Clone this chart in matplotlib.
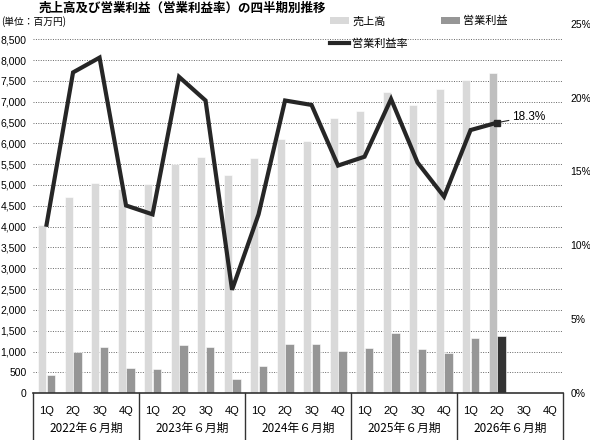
import numpy as np
import matplotlib
matplotlib.use("Agg")
import matplotlib.pyplot as plt
from matplotlib.patches import Patch
from matplotlib.lines import Line2D
import matplotlib.transforms as mtransforms

plt.rcParams['font.family'] = ['Noto Sans CJK JP', 'DejaVu Sans']
NUM_FONT = ['Liberation Sans', 'DejaVu Sans']

# data
years = ["2022年６月期", "2023年６月期", "2024年６月期", "2025年６月期", "2026年６月期"]
quarters = ["1Q", "2Q", "3Q", "4Q"]
sales = [4040, 4700, 5040, 4900,
         5020, 5500, 5660, 5240,
         5640, 6100, 6060, 6610,
         6770, 7240, 6920, 7300,
         7520, 7700, np.nan, np.nan]
op_income = [440, 1000, 1120, 600,
             585, 1160, 1105, 336,
             665, 1185, 1175, 1015,
             1080, 1440, 1065, 960,
             1320, 1385, np.nan, np.nan]
op_margin = [11.4, 21.7, 22.7, 12.7,
             12.1, 21.4, 19.8, 7.0,
             12.1, 19.8, 19.5, 15.4,
             16.0, 19.9, 15.6, 13.3,
             17.8, 18.3, np.nan, np.nan]

n = len(sales)
x = np.arange(n)
last = 17  # latest quarter, drawn darker

sales_colors = ['#d9d9d9'] * n
op_colors = ['#969696'] * n
sales_colors[last] = '#bfbfbf'
op_colors[last] = '#333333'

fig = plt.figure(figsize=(5.9, 4.4), dpi=100)
ax = fig.add_axes([33.3 / 590, 1 - 393.3 / 440, 530 / 590, 369.7 / 440])
ax2 = ax.twinx()

w = 0.31
ax.bar(x - w / 2 - 0.01, sales, width=w, color=sales_colors, edgecolor='white', linewidth=0.4, zorder=2)
ax.bar(x + w / 2 + 0.01, op_income, width=w, color=op_colors, edgecolor='white', linewidth=0.4, zorder=2)

ax.set_xlim(-0.5, n - 0.5)
ax.set_ylim(0, 8874)
ax.set_yticks(np.arange(0, 8501, 500))
ax.set_yticklabels([f"{v:,}" for v in range(0, 8501, 500)], family=NUM_FONT, fontsize=7.5)
for v in range(500, 8501, 500):
    ax.axhline(v, color='#666666', linestyle=(0, (1, 1.5)), linewidth=0.7, zorder=1)

ax2.plot(x, op_margin, color='#262626', linewidth=3, zorder=5, solid_joinstyle='miter')
ax2.plot(x[last], op_margin[last], marker='s', markersize=4, color='#262626', zorder=6)
ax2.set_ylim(0, 25)
ax2.set_yticks(np.arange(0, 26, 5))
ax2.set_yticklabels([f"{v}%" for v in range(0, 26, 5)], family=NUM_FONT, fontsize=7.5)
ax2.annotate(f"{op_margin[last]}%", xy=(x[last], op_margin[last]),
             xytext=(x[last] + 0.55, op_margin[last] + 0.4),
             fontsize=8.5, family=NUM_FONT, va='center', ha='left',
             arrowprops=dict(arrowstyle='-', color='#262626', lw=0.8, shrinkA=0, shrinkB=0))

ax.set_zorder(1)
ax2.set_zorder(2)
ax2.patch.set_visible(False)

for a in (ax, ax2):
    for s in ('top', 'left', 'right'):
        a.spines[s].set_visible(False)
    a.tick_params(axis='y', length=0)
ax.tick_params(axis='y', pad=5)
ax2.tick_params(axis='y', pad=5)
ax2.spines['bottom'].set_visible(False)
ax.spines['bottom'].set_color('#333333')
ax.spines['bottom'].set_linewidth(1.2)

ax.set_xticks(x)
ax.set_xticklabels(quarters * len(years), family=NUM_FONT, fontsize=8)
ax.tick_params(axis='x', length=0, pad=9)

trans = mtransforms.blended_transform_factory(ax.transData, ax.transAxes)
for i in range(len(years) + 1):
    xb = i * 4 - 0.5
    ax.plot([xb, xb], [0, -0.13], transform=trans, color='#333333', linewidth=1, clip_on=False)
for i, yl in enumerate(years):
    ax.text(i * 4 + 1.5, -0.095, yl, transform=trans, ha='center', va='center', fontsize=8.5)

fig.text(182 / 590, 1 - 8 / 440, "売上高及び営業利益（営業利益率）の四半期別推移",
         ha='center', va='center', fontsize=9, fontweight='bold')
fig.text(1 / 590, 1 - 22 / 440, "(単位：百万円)", ha='left', va='center', fontsize=7)

handles = [Patch(facecolor='#d9d9d9', label='売上高'),
           Line2D([], [], color='#262626', linewidth=3, label='営業利益率'),
           Patch(facecolor='#969696', label='営業利益')]
fig.legend(handles=handles, ncol=2, loc='upper left', bbox_to_anchor=(330 / 590, 1 - 16 / 440),
           frameon=False, fontsize=8, handlelength=1.7, handleheight=0.6, handletextpad=0.3,
           columnspacing=3.0, labelspacing=1.1, borderpad=0, borderaxespad=0)

fig.savefig("out.png", dpi=100)
